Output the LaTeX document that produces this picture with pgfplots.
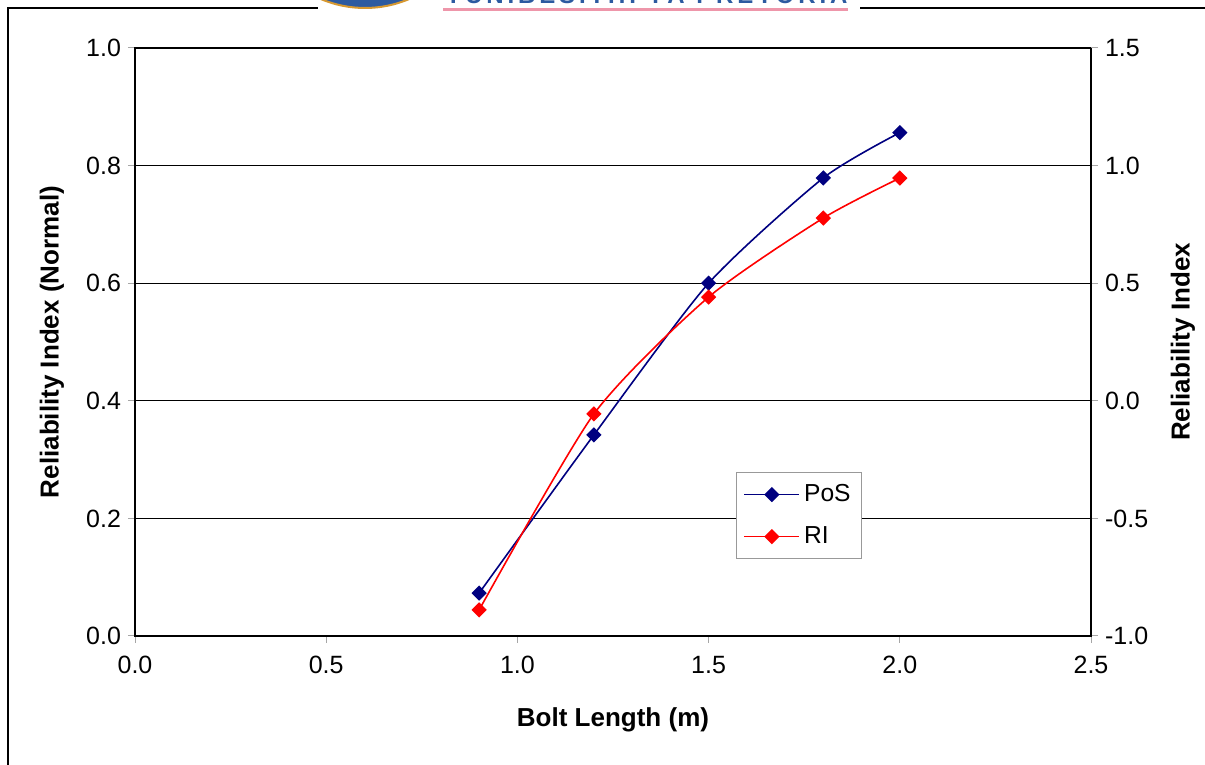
\documentclass[border=0pt]{standalone}
\usepackage{pgfplots}
\pgfplotsset{compat=1.18}
\usepackage{fontspec}
\setmainfont{Liberation Sans}

\definecolor{posblue}{RGB}{0,0,128}
\definecolor{rired}{RGB}{255,0,0}
\definecolor{logoblue}{RGB}{44,90,160}
\definecolor{logogold}{RGB}{214,152,48}
\definecolor{logopink}{RGB}{238,150,170}

% PoS against bolt length (left axis)
\pgfplotstableread{
x    y
0.9  0.073
1.2  0.342
1.5  0.600
1.8  0.779
2.0  0.856
}\posdata

% reliability index against bolt length (right axis)
\pgfplotstableread{
x    y
0.9  -0.889
1.2  -0.056
1.5  0.441
1.8  0.777
2.0  0.947
}\ridata

\pgfplotsset{
  base/.style={
    scale only axis,
    width=478pt, height=294pt,
    at={(67.5pt,64.5pt)}, anchor=south west,
    xmin=0, xmax=2.5,
    tick align=outside,
    major tick length=3.5pt,
    tick style={gray!70, line width=0.5pt},
    ticklabel style={font=\fontsize{12.5}{14}\selectfont},
    /pgf/number format/assume math mode=true,
    xticklabel style={yshift=-3pt, /pgf/number format/fixed, /pgf/number format/fixed zerofill, /pgf/number format/precision=1},
    yticklabel style={/pgf/number format/fixed, /pgf/number format/fixed zerofill, /pgf/number format/precision=1},
    label style={font=\fontsize{13}{15}\selectfont\bfseries},
    axis line style={black, line width=0.6pt},
  },
  dmark/.style={mark=square*, mark size=2.3pt, mark options={rotate=45, solid}},
}

\begin{document}
\begin{tikzpicture}[x=0.5pt,y=0.5pt]
\clip (0,0) rectangle (1205,765);

% outer frame with the crest across the top edge
\draw[line width=0.6pt] (8,0) -- (8,757) -- (318,757);
\draw[line width=0.6pt] (860,757) -- (1205,757);
\fill[logoblue, draw=logogold, line width=1pt] (365,870) circle (113);
\draw[logopink, line width=1.5pt] (443,755) -- (848,755);
\node[anchor=base west, inner sep=0pt, text=logoblue, font=\fontsize{12}{12}\selectfont\bfseries]
  at (445,761) {\makebox[201pt][s]{Y\hfill U\hfill N\hfill I\hfill B\hfill E\hfill S\hfill I\hfill T\hfill H\hfill I\hfill\hfill\hfill Y\hfill A\hfill\hfill\hfill P\hfill R\hfill E\hfill T\hfill O\hfill R\hfill I\hfill A}};

\begin{axis}[
  base,
  xtick={0,0.5,1.0,1.5,2.0,2.5},
  ytick={0,0.2,0.4,0.6,0.8,1.0},
  ymin=0, ymax=1,
  xtick pos=bottom, ytick pos=left,
  ymajorgrids,
  grid style={black, line width=0.5pt},
  xlabel={Bolt Length (m)},
  ylabel={Reliability Index (Normal)},
  xlabel style={at={(axis description cs:0.5,-0.143)}, anchor=center},
  ylabel style={at={(axis description cs:-0.0868,0.5)}, anchor=center},
]
\addplot[posblue, line width=0.8pt, smooth, tension=0.4, dmark] table[x=x, y=y] {\posdata};
\end{axis}

\begin{axis}[
  base,
  axis x line=none,
  axis y line*=right,
  ymin=-1, ymax=1.5,
  ytick={-1.0,-0.5,0,0.5,1.0,1.5},
  ylabel={Reliability Index},
  ylabel style={at={(axis description cs:1.0962,0.5)}, anchor=center},
  legend style={
    at={(0.6287,0.2789)}, anchor=north west,
    draw=gray!80, line width=0.5pt, fill=white,
    font=\fontsize{12.3}{14}\selectfont,
    inner xsep=3.5pt, inner ysep=4pt,
    row sep=7pt,
  },
  legend cell align=left,
  legend image code/.code={
    \draw[mark repeat=2, mark phase=2] plot coordinates {(0pt,0pt) (13.75pt,0pt) (27.5pt,0pt)};
  },
]
\addlegendimage{posblue, line width=0.8pt, dmark}
\addlegendentry{PoS}
\addplot[rired, line width=0.8pt, smooth, tension=0.4, dmark] table[x=x, y=y] {\ridata};
\addlegendentry{RI}
\end{axis}
\end{tikzpicture}
\end{document}
